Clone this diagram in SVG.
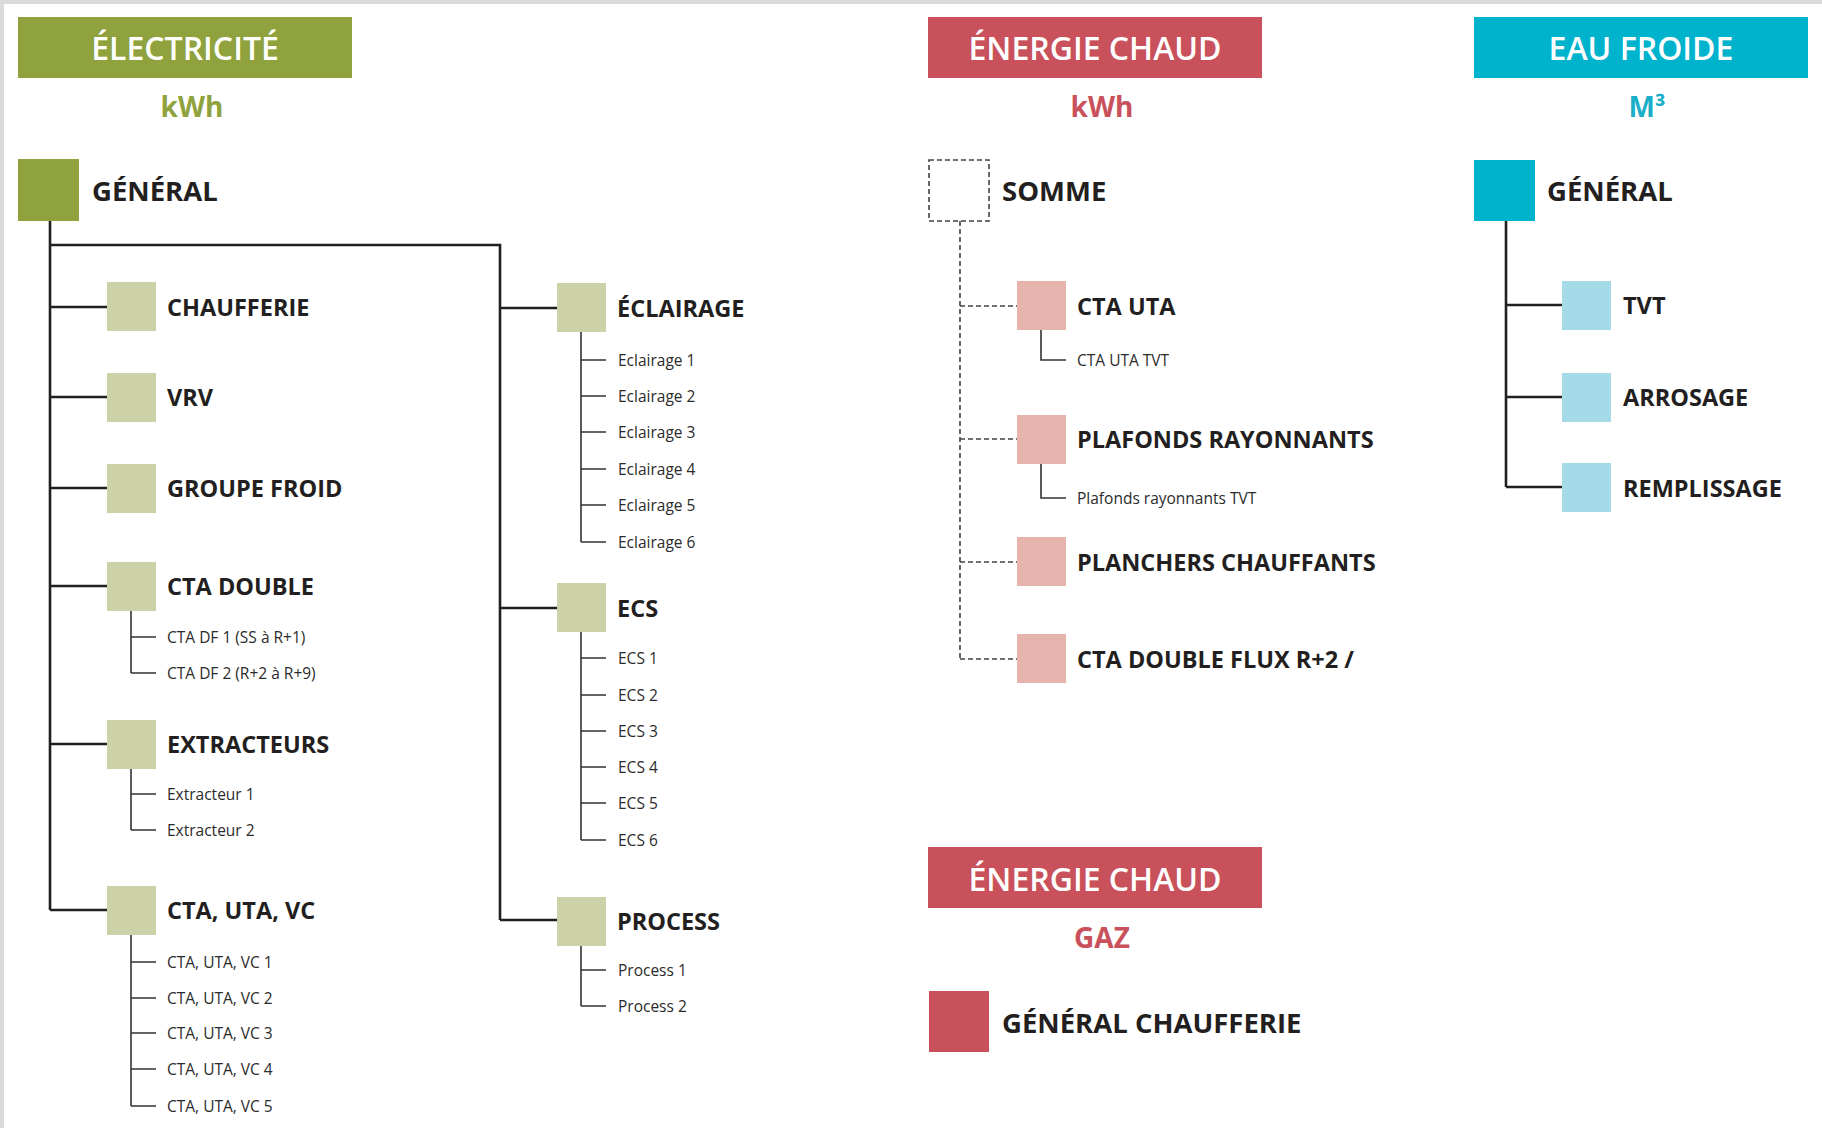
<svg xmlns="http://www.w3.org/2000/svg" width="1822" height="1128" viewBox="0 0 1822 1128">
<style>
text{font-family:"Open Sans","Noto Sans","DejaVu Sans",sans-serif;fill:#231f20}
.hd{font-size:32px;font-weight:600;fill:#ffffff;text-anchor:middle}
.unit{font-size:28px;font-weight:700;text-anchor:middle}
.big{font-size:27.5px;font-weight:700}
.lbl{font-size:23.5px;font-weight:700}
.sm{font-size:15.5px;font-weight:400;fill:#2b2b2b}
.main{stroke:#231f20;stroke-width:2.6;fill:none}
.sub{stroke:#333333;stroke-width:1.6;fill:none}
.dash{stroke:#444444;stroke-width:1.6;fill:none;stroke-dasharray:5 3}
.olive{fill:#8fa23d}
.sage{fill:#cdd1a7}
.red{fill:#c9515b}
.pink{fill:#e6b3ad}
.cyan{fill:#00b3cd}
.lcyan{fill:#a5dbe9}
</style>
<rect x="0" y="0" width="1822" height="1128" fill="#ffffff"/>
<rect x="0" y="0" width="1822" height="4" fill="#dadada"/>
<rect x="0" y="0" width="4" height="1128" fill="#dadada"/>

<g id="connectors">
  <path class="main" d="M50 221V910M50 307H107M50 397H107M50 488H107M50 586H107M50 744H107M50 910H107"/>
  <path class="main" d="M50 245H500V920M500 308H557M500 608H557M500 920H557"/>
  <path class="sub" d="M131 611V673M131 637H156M131 673H156"/>
  <path class="sub" d="M131 769V830M131 794H156M131 830H156"/>
  <path class="sub" d="M131 935V1106M131 962H156M131 998H156M131 1033H156M131 1069H156M131 1106H156"/>
  <path class="sub" d="M581 332V542M581 360H606M581 396H606M581 432H606M581 469H606M581 505H606M581 542H606"/>
  <path class="sub" d="M581 632V840M581 658H606M581 695H606M581 731H606M581 767H606M581 803H606M581 840H606"/>
  <path class="sub" d="M581 946V1006M581 970H606M581 1006H606"/>
  <path class="dash" d="M960 221V659M960 306H1017M960 439H1017M960 562H1017M960 659H1017"/>
  <path class="sub" d="M1041 330V360H1066M1041 464V498H1066"/>
  <path class="main" d="M1506 221V487M1506 305H1562M1506 397H1562M1506 487H1562"/>
</g>

<g id="hdr-elec">
  <rect class="olive" x="18" y="17" width="334" height="61"/>
  <text class="hd" x="185" y="60">ÉLECTRICITÉ</text>
  <text class="unit" x="192" y="117" style="fill:#8fa23d">kWh</text>
</g>
<g id="elec-general">
  <rect class="olive" x="18" y="159" width="61" height="62"/>
  <text class="big" x="92" y="201">GÉNÉRAL</text>
</g>
<g id="chaufferie"><rect class="sage" x="107" y="282" width="49" height="49"/><text class="lbl" x="167" y="316">CHAUFFERIE</text></g>
<g id="vrv"><rect class="sage" x="107" y="373" width="49" height="49"/><text class="lbl" x="167" y="406">VRV</text></g>
<g id="groupe-froid"><rect class="sage" x="107" y="464" width="49" height="49"/><text class="lbl" x="167" y="497">GROUPE FROID</text></g>
<g id="cta-double"><rect class="sage" x="107" y="562" width="49" height="49"/><text class="lbl" x="167" y="595">CTA DOUBLE</text>
  <text class="sm" x="167" y="643">CTA DF 1 (SS à R+1)</text>
  <text class="sm" x="167" y="679">CTA DF 2 (R+2 à R+9)</text>
</g>
<g id="extracteurs"><rect class="sage" x="107" y="720" width="49" height="49"/><text class="lbl" x="167" y="753">EXTRACTEURS</text>
  <text class="sm" x="167" y="800">Extracteur 1</text>
  <text class="sm" x="167" y="836">Extracteur 2</text>
</g>
<g id="cta-uta-vc"><rect class="sage" x="107" y="886" width="49" height="49"/><text class="lbl" x="167" y="919">CTA, UTA, VC</text>
  <text class="sm" x="167" y="968">CTA, UTA, VC 1</text>
  <text class="sm" x="167" y="1004">CTA, UTA, VC 2</text>
  <text class="sm" x="167" y="1039">CTA, UTA, VC 3</text>
  <text class="sm" x="167" y="1075">CTA, UTA, VC 4</text>
  <text class="sm" x="167" y="1112">CTA, UTA, VC 5</text>
</g>
<g id="eclairage"><rect class="sage" x="557" y="283" width="49" height="49"/><text class="lbl" x="617" y="317">ÉCLAIRAGE</text>
  <text class="sm" x="618" y="366">Eclairage 1</text>
  <text class="sm" x="618" y="402">Eclairage 2</text>
  <text class="sm" x="618" y="438">Eclairage 3</text>
  <text class="sm" x="618" y="475">Eclairage 4</text>
  <text class="sm" x="618" y="511">Eclairage 5</text>
  <text class="sm" x="618" y="548">Eclairage 6</text>
</g>
<g id="ecs"><rect class="sage" x="557" y="583" width="49" height="49"/><text class="lbl" x="617" y="617">ECS</text>
  <text class="sm" x="618" y="664">ECS 1</text>
  <text class="sm" x="618" y="701">ECS 2</text>
  <text class="sm" x="618" y="737">ECS 3</text>
  <text class="sm" x="618" y="773">ECS 4</text>
  <text class="sm" x="618" y="809">ECS 5</text>
  <text class="sm" x="618" y="846">ECS 6</text>
</g>
<g id="process"><rect class="sage" x="557" y="897" width="49" height="49"/><text class="lbl" x="617" y="930">PROCESS</text>
  <text class="sm" x="618" y="976">Process 1</text>
  <text class="sm" x="618" y="1012">Process 2</text>
</g>

<g id="hdr-chaud">
  <rect class="red" x="928" y="17" width="334" height="61"/>
  <text class="hd" x="1095" y="60">ÉNERGIE CHAUD</text>
  <text class="unit" x="1102" y="117" style="fill:#c9515b">kWh</text>
</g>
<g id="somme">
  <rect class="dash" x="929" y="160" width="60" height="61"/>
  <text class="big" x="1002" y="201">SOMME</text>
</g>
<g id="cta-uta"><rect class="pink" x="1017" y="281" width="49" height="49"/><text class="lbl" x="1077" y="315">CTA UTA</text>
  <text class="sm" x="1077" y="366">CTA UTA TVT</text>
</g>
<g id="plafonds"><rect class="pink" x="1017" y="415" width="49" height="49"/><text class="lbl" x="1077" y="448">PLAFONDS RAYONNANTS</text>
  <text class="sm" x="1077" y="504">Plafonds rayonnants TVT</text>
</g>
<g id="planchers"><rect class="pink" x="1017" y="537" width="49" height="49"/><text class="lbl" x="1077" y="571">PLANCHERS CHAUFFANTS</text></g>
<g id="cta-df"><rect class="pink" x="1017" y="634" width="49" height="49"/><text class="lbl" x="1077" y="668">CTA DOUBLE FLUX R+2 /</text></g>

<g id="hdr-gaz">
  <rect class="red" x="928" y="847" width="334" height="61"/>
  <text class="hd" x="1095" y="891">ÉNERGIE CHAUD</text>
  <text class="unit" x="1102" y="948" style="fill:#c9515b">GAZ</text>
</g>
<g id="general-chaufferie">
  <rect class="red" x="929" y="991" width="60" height="61"/>
  <text class="big" x="1002" y="1033">GÉNÉRAL CHAUFFERIE</text>
</g>

<g id="hdr-eau">
  <rect class="cyan" x="1474" y="17" width="334" height="61"/>
  <text class="hd" x="1641" y="60">EAU FROIDE</text>
  <text class="unit" x="1647" y="117" style="fill:#1aaec8">M³</text>
</g>
<g id="eau-general">
  <rect class="cyan" x="1474" y="160" width="61" height="61"/>
  <text class="big" x="1547" y="201">GÉNÉRAL</text>
</g>
<g id="tvt"><rect class="lcyan" x="1562" y="281" width="49" height="49"/><text class="lbl" x="1623" y="314">TVT</text></g>
<g id="arrosage"><rect class="lcyan" x="1562" y="373" width="49" height="49"/><text class="lbl" x="1623" y="406">ARROSAGE</text></g>
<g id="remplissage"><rect class="lcyan" x="1562" y="463" width="49" height="49"/><text class="lbl" x="1623" y="497">REMPLISSAGE</text></g>
</svg>
